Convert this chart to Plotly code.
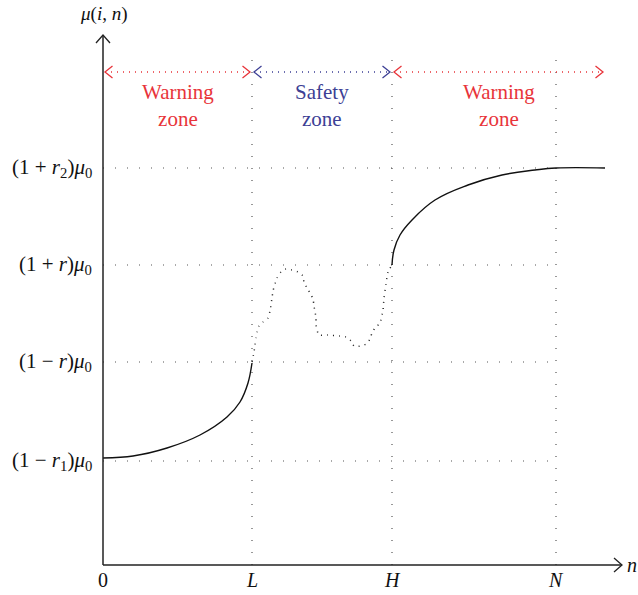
import plotly.graph_objects as go

# ---- data (units: 1 = 100 px in the reference) ----
x_tick_vals = [0, 1.49, 2.89, 4.53]
x_tick_text = ["0", "<i>L</i>", "<i>H</i>", "<i>N</i>"]

y_levels = [1.04, 2.03, 3.00, 3.97]
y_level_text = [
    "(1 − <i>r</i><sub>1</sub>)<i>μ</i><sub>0</sub>",
    "(1 − <i>r</i>)<i>μ</i><sub>0</sub>",
    "(1 + <i>r</i>)<i>μ</i><sub>0</sub>",
    "(1 + <i>r</i><sub>2</sub>)<i>μ</i><sub>0</sub>",
]

# lower warning zone curve (0 -> L)
low_x = [0, 0.30, 0.64, 0.97, 1.24, 1.37, 1.45, 1.49]
low_y = [1.07, 1.09, 1.17, 1.30, 1.48, 1.63, 1.82, 2.02]

# safety zone curve (L -> H), dotted
safe_x = [1.49, 1.51, 1.52, 1.53, 1.54, 1.56, 1.60, 1.65, 1.67, 1.69, 1.70, 1.74, 1.78,
          1.83, 1.89, 1.95, 2.00, 2.01, 2.04, 2.07, 2.10, 2.11, 2.13, 2.13, 2.16, 2.24,
          2.37, 2.43, 2.48, 2.51, 2.58, 2.63, 2.67, 2.69, 2.72, 2.77, 2.80, 2.81, 2.83,
          2.85, 2.89]
safe_y = [2.03, 2.13, 2.20, 2.27, 2.33, 2.39, 2.43, 2.47, 2.54, 2.67, 2.74, 2.87, 2.93,
          2.96, 2.95, 2.93, 2.89, 2.83, 2.77, 2.72, 2.66, 2.59, 2.47, 2.40, 2.30, 2.30,
          2.29, 2.28, 2.24, 2.19, 2.19, 2.21, 2.26, 2.32, 2.37, 2.42, 2.55, 2.67, 2.81,
          2.93, 3.00]

# upper warning zone curve (H -> beyond N)
high_x = [2.89, 2.91, 2.97, 3.09, 3.32, 3.65, 3.99, 4.32, 4.53, 5.02]
high_y = [3.00, 3.15, 3.30, 3.45, 3.65, 3.80, 3.90, 3.95, 3.97, 3.97]

zone_bounds = [0, 1.49, 2.89, 5.02]
zone_names = ["Warning<br>zone", "Safety<br>zone", "Warning<br>zone"]
zone_colors = ["#e8343a", "#3d3f95", "#e8343a"]
zone_y = 4.93
zone_text_y = 4.60

x_axis_end = 5.19
y_axis_end = 5.30
grid_top = 5.15

FONT = "Liberation Serif"
AX = "#222222"
GRID = "#555555"

fig = go.Figure()

def add_line(xs, ys, color, width, dash="solid", shape="linear", smoothing=1.0):
    line = dict(color=color, width=width, dash=dash, shape=shape)
    if shape == "spline":
        line["smoothing"] = smoothing
    fig.add_trace(go.Scatter(x=xs, y=ys, mode="lines", cliponaxis=False,
                             line=line, hoverinfo="skip", showlegend=False))

def chevron(tx, ty, dx, dy, color, size=0.075, spread=0.06):
    # tip at (tx, ty), pointing along (dx, dy)
    px, py = -dy, dx
    bx, by = tx - dx * size, ty - dy * size
    add_line([bx + px * spread, tx, bx - px * spread],
             [by + py * spread, ty, by - py * spread], color, 1.3)

# grid guide lines
for lv in y_levels:
    add_line([0, x_tick_vals[-1]], [lv, lv], GRID, 1.2, "1px,11px")
for xv in x_tick_vals[1:]:
    add_line([xv, xv], [0, grid_top], GRID, 1.2, "1px,11px")

# zone arrows
for i in range(3):
    a, b = zone_bounds[i], zone_bounds[i + 1]
    c = zone_colors[i]
    add_line([a + 0.02, b - 0.02], [zone_y, zone_y], c, 1.3, "1px,5px")
    chevron(a + 0.02, zone_y, -1, 0, c)
    chevron(b - 0.02, zone_y, 1, 0, c)

# curves
add_line(low_x, low_y, "#111111", 1.4, shape="spline", smoothing=1.0)
add_line(safe_x, safe_y, "#222222", 1.5, "1px,5px", shape="spline", smoothing=0.6)
add_line(high_x, high_y, "#111111", 1.4, shape="spline", smoothing=1.2)

# axes
add_line([0, x_axis_end], [0, 0], AX, 1.5)
add_line([0, 0], [0, y_axis_end], AX, 1.5)
chevron(x_axis_end, 0, 1, 0, AX, 0.08, 0.07)
chevron(0, y_axis_end, 0, 1, AX, 0.08, 0.07)

ann = []
for xv, t in zip(x_tick_vals, x_tick_text):
    ann.append(dict(x=xv, y=0, text=t, showarrow=False, yanchor="top", yshift=-2,
                    font=dict(family=FONT, size=20, color="#111")))
for lv, t in zip(y_levels, y_level_text):
    ann.append(dict(x=0, y=lv, text=t, showarrow=False, xanchor="right", xshift=-9,
                    font=dict(family=FONT, size=21, color="#111")))
for i in range(3):
    ann.append(dict(x=(zone_bounds[i] + zone_bounds[i + 1]) / 2, y=zone_text_y,
                    text=zone_names[i], showarrow=False,
                    font=dict(family=FONT, size=21, color=zone_colors[i])))
ann.append(dict(x=x_axis_end, y=0, text="<i>n</i>", showarrow=False, xanchor="left",
                xshift=3, font=dict(family=FONT, size=20, color="#111")))
ann.append(dict(x=0, y=y_axis_end, text="<i>μ</i>(<i>i</i>, <i>n</i>)", showarrow=False,
                yanchor="bottom", yshift=8, font=dict(family=FONT, size=19, color="#111")))

fig.update_layout(
    width=638, height=595,
    margin=dict(l=93, r=0, t=0, b=20),
    plot_bgcolor="white", paper_bgcolor="white",
    xaxis=dict(range=[-0.10, 5.35], visible=False, fixedrange=True),
    yaxis=dict(range=[-0.10, 5.65], visible=False, fixedrange=True),
    annotations=ann,
    showlegend=False,
)

fig.write_html(
    "out.html",
    config={"displayModeBar": False, "staticPlot": True},
    post_script="document.documentElement.style.margin='0';"
                "document.body.style.margin='0';"
                "document.body.style.overflow='hidden';",
)
